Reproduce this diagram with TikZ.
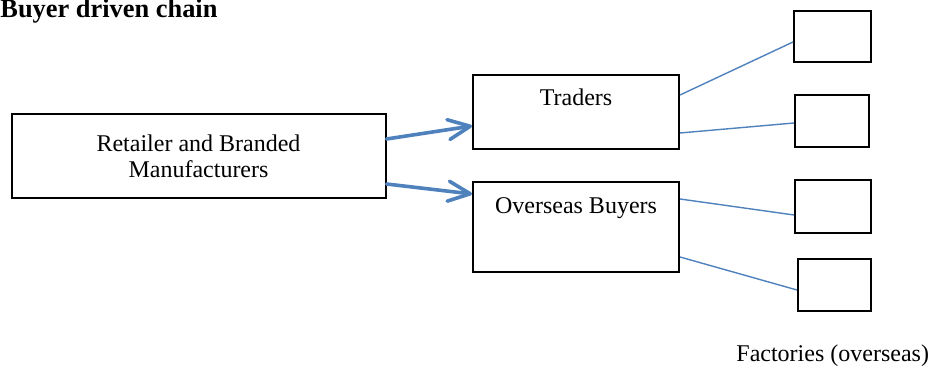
\documentclass[tikz,border=0pt]{standalone}
\usepackage{fontspec}
\setmainfont{Liberation Serif}
\usepackage{xcolor}
\usetikzlibrary{arrows.meta}
\definecolor{chainblue}{RGB}{79,129,189}
\tikzset{
  box/.style={draw, line width=1pt, inner sep=0pt, font=\fontsize{12}{13}\selectfont},
  factory/.style={box, anchor=north west},
  feed/.style={-{Straight Barb[length=11pt, width=10pt, round]}, draw=chainblue, line width=1.8pt, line cap=round},
  link/.style={draw=chainblue, line width=0.7pt}
}
\begin{document}
\begin{tikzpicture}[x=0.5pt, y=-0.5pt]
  \useasboundingbox (0,0) rectangle (929,367);
  % Heading
  \node[anchor=base west, inner sep=0pt, font=\fontsize{13.2}{15}\selectfont\bfseries] (title) at (0,18) {Buyer driven chain};
  % Lead firm
  \node[box, anchor=north west, minimum width=187pt, minimum height=42pt, align=center] (retail) at (10.5,113.5)
    {Retailer and Branded\\Manufacturers};
  % Intermediaries (text sits near the top)
  \node[box, anchor=north west, minimum width=103pt, text height=15.5pt, text depth=21.5pt] (traders) at (472,74) {Traders};
  \node[box, anchor=north west, minimum width=103pt, text height=16pt, text depth=29pt] (buyers) at (472,181) {Overseas Buyers};
  % Factories
  \foreach \n/\x/\y/\w/\h in {1/793/10/77/51, 2/794/94/74/52, 3/794/179/76/53, 4/797/258/73/52}{
    \node[factory, minimum width=\w*0.5pt, minimum height=\h*0.5pt] (fac\n) at (\x,\y) {};
  }
  \node[anchor=base west, inner sep=0pt, font=\fontsize{12}{13}\selectfont] (faclabel) at (736,361) {Factories (overseas)};
  % Arrows to intermediaries
  \draw[feed] ([yshift=8.75pt]retail.east) -- ([yshift=-7pt]traders.west);
  \draw[feed] ([yshift=-13.75pt]retail.east) -- ([yshift=16.5pt]buyers.west);
  % Links to factories
  \draw[link] ([yshift=8.5pt]traders.east) -- ([yshift=-2.75pt]fac1.west);
  \draw[link] ([yshift=-10.5pt]traders.east) -- ([yshift=-1pt]fac2.west);
  \draw[link] ([yshift=14pt]buyers.east) -- ([yshift=-4.25pt]fac3.west);
  \draw[link] ([yshift=-15pt]buyers.east) -- ([yshift=-2.5pt]fac4.west);
\end{tikzpicture}
\end{document}
